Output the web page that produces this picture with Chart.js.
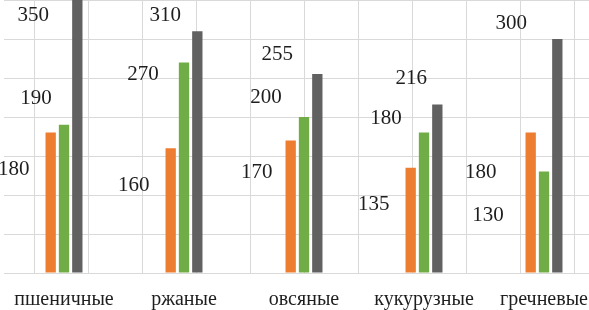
<!DOCTYPE html>
<html>
<head>
<meta charset="utf-8">
<script src="https://cdn.jsdelivr.net/npm/chart.js@4.4.1/dist/chart.umd.min.js"></script>
<style>
  html, body { margin: 0; padding: 0; background: #fff; overflow: hidden; font-family: 'Liberation Serif', serif; }
  #wrap { position: absolute; left: 0; top: 0; width: 610px; height: 310px; }
</style>
</head>
<body>
<div id="wrap"><canvas id="chart" width="610" height="310"></canvas></div>
<script>
const categories = ['пшеничные', 'ржаные', 'овсяные', 'кукурузные', 'гречневые'];
const orangeValues = [180, 160, 170, 135, 180];
const greenValues = [190, 270, 200, 180, 130];
const grayValues = [350, 310, 255, 216, 300];
const yMax = 350;
const yStep = 50;

// where each value label sits, relative to the top of its bar
const labelShift = [
    [[-37, 37], [-37, 37], [-34, 32], [-37, 37], [-50, 40]],
    [[-28, -26], [-41, 12], [-38, -20], [-38, -14], [-56, 44]],
    [[-44, 15], [-32, -16], [-40, -20], [-26, -26], [-46, -16]]
];

const FONT = "'Liberation Serif', 'Times New Roman', serif";
const GRID = '#d9d9d9';
const INK = '#1e1e1e';

const valueLabels = {
    id: 'valueLabels',
    afterDatasetsDraw(chart) {
        const ctx = chart.ctx;
        ctx.save();
        ctx.font = `21px ${FONT}`;
        ctx.fillStyle = INK;
        ctx.textAlign = 'center';
        ctx.textBaseline = 'middle';
        chart.data.datasets.forEach((ds, i) => {
            const meta = chart.getDatasetMeta(i);
            meta.data.forEach((bar, j) => {
                const [dx, dy] = labelShift[i][j];
                ctx.fillText(String(ds.data[j]), bar.x + dx, bar.y + dy);
            });
        });
        ctx.restore();
    }
};

function drawChart() {
    new Chart(document.getElementById('chart'), {
        type: 'bar',
        data: {
            labels: categories,
            datasets: [
                { data: orangeValues, backgroundColor: '#ed7d31' },
                { data: greenValues, backgroundColor: '#70ad47' },
                { data: grayValues, backgroundColor: '#616161' }
            ]
        },
        options: {
            responsive: false,
            animation: false,
            events: [],
            layout: { padding: { left: 4, right: 6, top: 0, bottom: 0 } },
            datasets: { bar: { categoryPercentage: 0.333, barPercentage: 0.775 } },
            plugins: { legend: { display: false }, tooltip: { enabled: false } },
            scales: {
                x: {
                    afterFit: s => { s.height = 37; },
                    ticks: {
                        color: INK, font: { family: FONT, size: 20 },
                        maxRotation: 0, autoSkip: false, padding: 7
                    },
                    border: { display: false },
                    grid: { display: false }
                },
                xGrid: {
                    type: 'linear', position: 'bottom', bounds: 'data', min: -0.5, max: 4.5,
                    afterBuildTicks: s => { s.ticks = []; for (let v = -0.25; v < 4.5; v += 0.5) s.ticks.push({ value: v }); },
                    afterFit: s => { s.height = 0; },
                    ticks: { display: false },
                    border: { display: false },
                    grid: { color: GRID, drawTicks: false }
                },
                y: {
                    min: 0, max: yMax,
                    ticks: { display: false, stepSize: yStep },
                    afterFit: s => { s.width = 0; },
                    border: { display: false },
                    grid: { color: GRID, drawTicks: false }
                }
            }
        },
        plugins: [valueLabels]
    });
}

// make sure the serif face is ready before the canvas draws text
Promise.all([
    document.fonts.load("21px 'Liberation Serif'", '0123456789'),
    document.fonts.load("20px 'Liberation Serif'", 'пшеничные')
]).catch(() => {}).then(drawChart);
</script>
</body>
</html>
